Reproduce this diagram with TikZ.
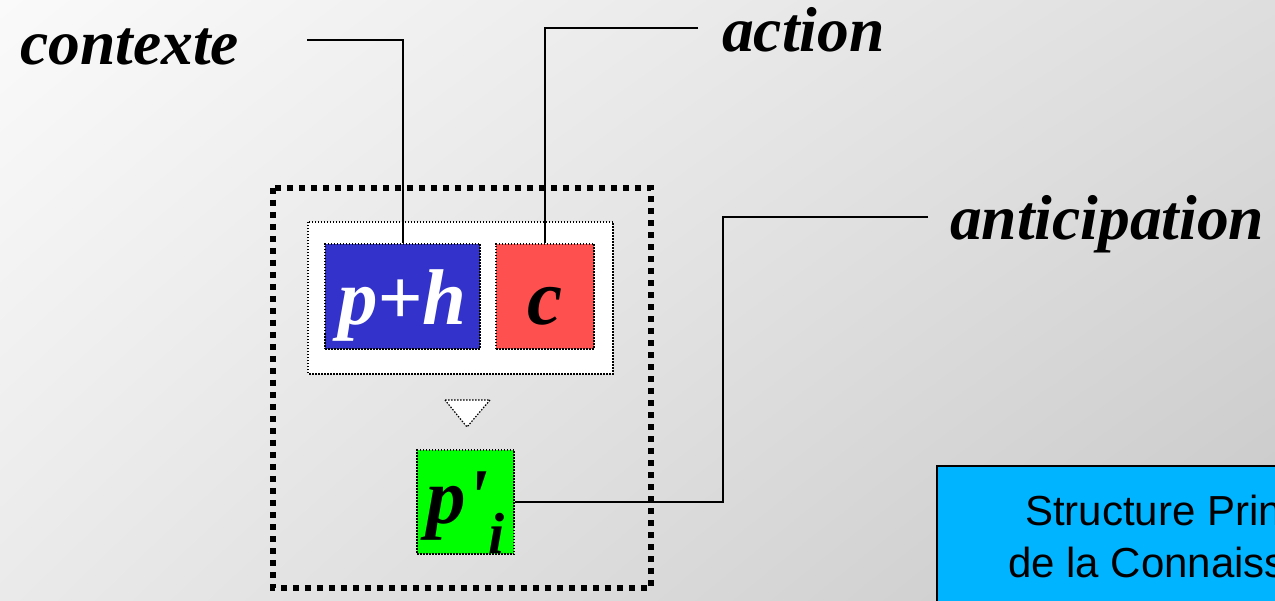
\documentclass[tikz,border=0pt]{standalone}
\usepackage{fontspec}
\setmainfont{Liberation Serif}
\newfontfamily\boxfont{Liberation Sans}
\usetikzlibrary{shadings}

\definecolor{phblue}{RGB}{51,51,204}
\definecolor{cred}{RGB}{255,80,80}
\definecolor{pgreen}{RGB}{0,255,0}
\definecolor{spcblue}{RGB}{0,180,255}
\definecolor{bgtl}{RGB}{250,250,250}
\definecolor{bgtr}{RGB}{222,222,222}
\definecolor{bgbl}{RGB}{234,234,234}
\definecolor{bgbr}{RGB}{200,200,200}

\begin{document}
\begin{tikzpicture}[x=1pt, y=-1pt,
    lbl/.style={font=\fontsize{63.5}{63.5}\selectfont\bfseries\itshape, anchor=base west, inner sep=0pt},
    cell/.style={draw, line width=1.2pt, dash pattern=on 1.5pt off 1.5pt, inner sep=0pt,
                 font=\fontsize{79}{79}\selectfont\bfseries\itshape, text height=57pt, text depth=0pt},
    wire/.style={line width=2pt}]
    % page and background
    \useasboundingbox (0,0) rectangle (1275,601);
    \clip (0,0) rectangle (1275,601);
    \shade[upper left=bgtl, upper right=bgtr, lower left=bgbl, lower right=bgbr] (0,0) rectangle (1275,601);

    % outer dotted frame
    \draw[line width=6pt, dash pattern=on 6pt off 6pt] (273,188) rectangle (651,588);

    % white holder for the two cells
    \draw[fill=white, line width=1.2pt, dash pattern=on 1.5pt off 1.5pt] (308,222) rectangle (613,374);

    % cells
    \node[cell, fill=phblue, text=white, minimum width=155pt, minimum height=105pt] (ph) at (402.5,296.5) {p+h};
    \node[cell, fill=cred, minimum width=98pt, minimum height=105pt] (c) at (545,296.5) {c};
    \node[cell, fill=pgreen, minimum width=97pt, minimum height=104pt, text height=42pt] (pi) at (465.5,502)
        {p\textquotesingle\raisebox{-30pt}{\fontsize{58}{58}\selectfont i}};

    % small triangle
    \draw[fill=white, line width=1.2pt, dash pattern=on 1.5pt off 1.5pt] (445,400) -- (490,400) -- (467,427) -- cycle;

    % labels
    \node[lbl] (ctx) at (20,65) {contexte};
    \node[lbl] (act) at (722,52) {action};
    \node[lbl] (ant) at (950,240) {anticipation};

    % free ends of the wires
    \coordinate (ctxend) at (307,40);
    \coordinate (actend) at (698,28);
    \coordinate (antend) at (928,217);

    % wires
    \draw[wire] (ctxend) -| (ph.north);
    \draw[wire] (actend) -| (c.north);
    \draw[wire] (antend) -- ++(-205,0) |- (pi.east);

    % legend box
    \draw[line width=2pt, fill=spcblue] (937,466) rectangle (1320,640);
    \node[font=\boxfont\fontsize{42}{42}\selectfont, anchor=base west, inner sep=0pt] (spc1) at (1025,525) {Structure Prin};
    \node[font=\boxfont\fontsize{42}{42}\selectfont, anchor=base west, inner sep=0pt] (spc2) at (1008,577) {de la Connaiss};
\end{tikzpicture}
\end{document}
